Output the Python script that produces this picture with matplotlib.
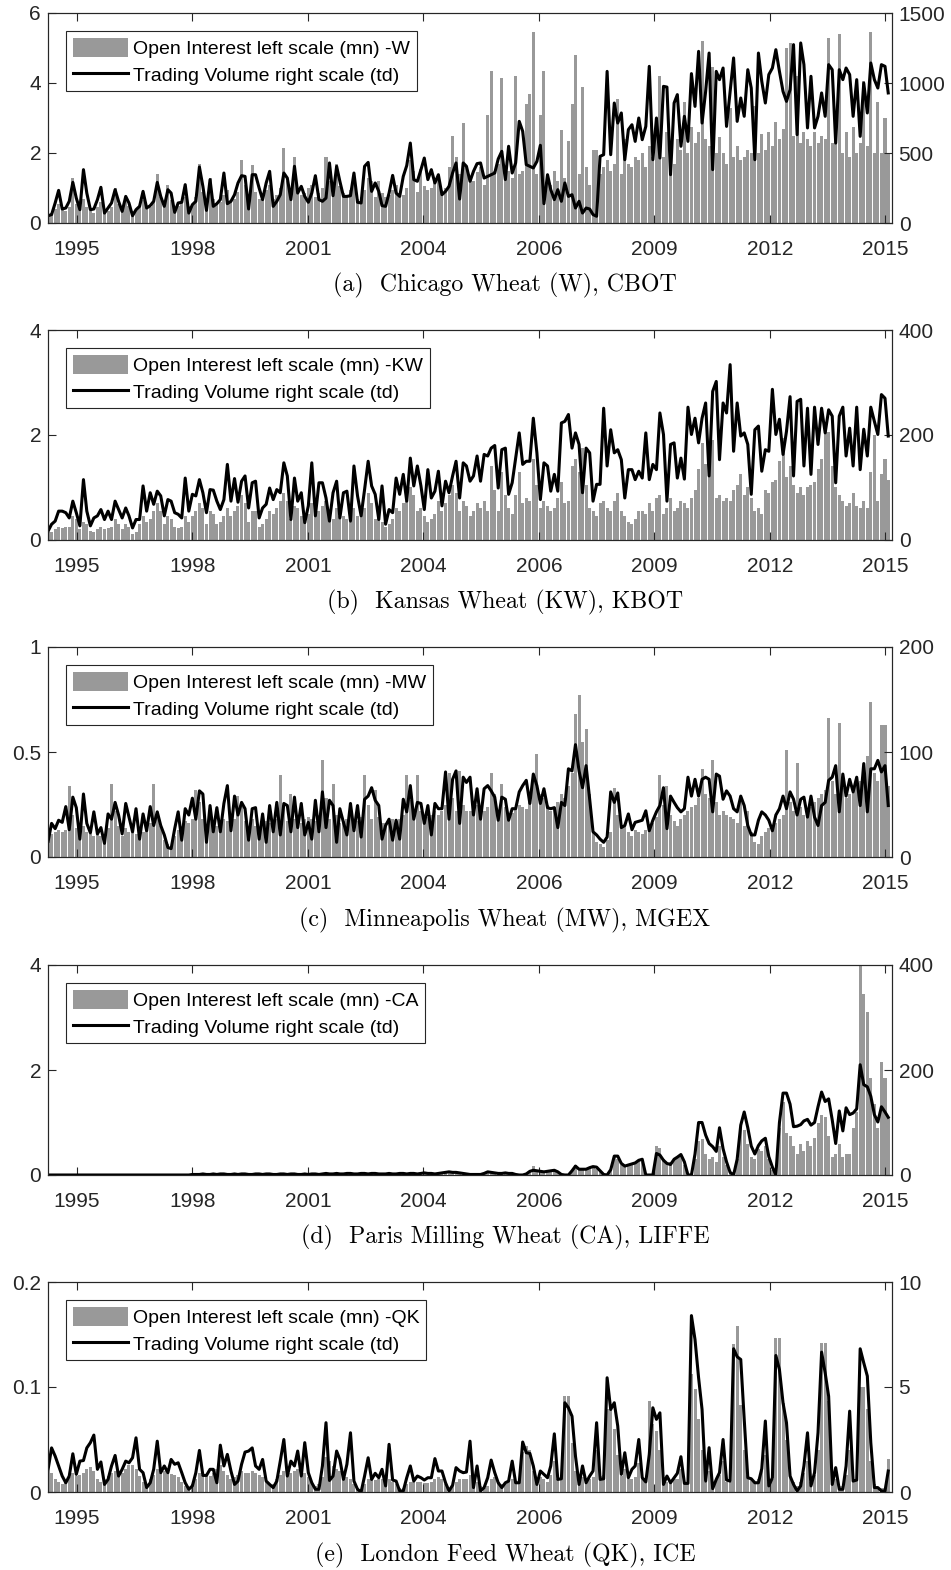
import numpy as np
import matplotlib
matplotlib.use('Agg')
import matplotlib.pyplot as plt

#==============================================================================
# donnees mensuelles, avril 1995 -> mars 2015 (une ligne = 12 mois)
#==============================================================================

mois = np.arange('1995-04', '2015-04', dtype='datetime64[M]').astype('datetime64[D]')

# Chicago W : open interest (mn) et volume (td)
w_oi = [0.25, 0.30, 0.40, 0.55, 0.40, 0.35, 0.45, 1.30, 0.55, 0.40, 0.70, 0.45,
        0.35, 0.30, 0.45, 0.60, 0.35, 0.35, 0.45, 1.00, 0.55, 0.40, 0.75, 0.50,
        0.35, 0.40, 0.50, 0.65, 0.45, 0.45, 0.60, 1.40, 0.75, 0.50, 1.10, 0.65,
        0.40, 0.50, 0.60, 0.75, 0.50, 0.55, 0.75, 1.70, 0.90, 0.55, 1.30, 0.70,
        0.55, 0.60, 0.80, 0.95, 0.60, 0.70, 0.90, 1.80, 1.10, 0.70, 1.65, 0.90,
        0.70, 0.75, 0.95, 1.10, 0.70, 0.80, 1.00, 2.15, 1.20, 0.85, 1.90, 1.00,
        0.80, 0.85, 1.00, 1.10, 0.75, 0.85, 1.00, 1.90, 1.20, 0.85, 1.70, 1.05,
        0.85, 0.80, 0.95, 1.10, 0.70, 0.75, 0.95, 1.30, 1.20, 0.75, 1.20, 0.85,
        0.75, 0.80, 0.95, 1.10, 0.75, 0.80, 1.00, 1.80, 1.50, 0.90, 1.55, 1.05,
        0.95, 1.00, 1.20, 1.30, 0.95, 1.00, 1.60, 2.50, 1.90, 1.40, 2.85, 1.60,
        1.30, 1.20, 1.45, 1.60, 1.10, 3.10, 4.35, 1.50, 1.70, 4.15, 1.40, 1.50,
        1.30, 4.20, 1.40, 1.50, 3.40, 3.70, 5.45, 1.40, 3.10, 4.35, 1.30, 1.10,
        1.50, 1.20, 2.65, 1.30, 2.35, 3.40, 4.80, 1.40, 3.90, 1.60, 1.10, 2.10,
        2.10, 1.40, 1.60, 1.80, 1.50, 1.70, 3.55, 1.40, 2.40, 1.70, 1.60, 1.90,
        1.80, 2.00, 1.60, 2.20, 1.90, 2.60, 4.20, 1.90, 2.60, 2.00, 1.70, 2.40,
        2.10, 3.45, 2.00, 2.75, 2.30, 2.60, 5.20, 2.40, 2.20, 4.45, 2.00, 2.45,
        2.00, 1.70, 3.30, 1.90, 2.20, 1.80, 1.90, 2.10, 2.00, 3.35, 2.00, 2.55,
        2.10, 2.60, 2.20, 2.90, 2.40, 2.70, 5.00, 5.15, 2.50, 4.20, 2.30, 2.60,
        2.40, 2.20, 2.60, 2.30, 2.50, 2.40, 5.30, 2.30, 2.50, 5.40, 2.00, 2.60,
        1.90, 2.75, 2.00, 2.30, 4.05, 2.20, 5.45, 2.00, 3.45, 2.00, 3.00, 2.00]
w_vol = [52, 60, 143, 233, 100, 107, 155, 290, 178, 95, 381, 214,
         95, 100, 167, 255, 71, 107, 143, 238, 155, 83, 190, 143,
         52, 95, 119, 226, 107, 124, 155, 290, 190, 119, 238, 214,
         76, 143, 148, 274, 71, 131, 155, 400, 262, 90, 310, 119,
         138, 167, 357, 138, 155, 202, 286, 338, 333, 100, 345, 345,
         250, 167, 286, 369, 119, 155, 202, 357, 321, 167, 405, 214,
         262, 190, 148, 214, 338, 167, 155, 178, 429, 195, 405, 298,
         190, 190, 195, 357, 148, 143, 405, 433, 226, 286, 226, 124,
         119, 214, 340, 214, 190, 333, 410, 571, 310, 298, 381, 464,
         310, 381, 286, 345, 202, 226, 262, 357, 429, 171, 429, 405,
         298, 369, 424, 429, 321, 333, 345, 357, 457, 512, 310, 548,
         357, 429, 726, 655, 417, 405, 393, 440, 555, 138, 345, 238,
         167, 238, 155, 286, 190, 202, 107, 155, 71, 107, 100, 60,
         48, 476, 488, 1083, 488, 857, 714, 786, 452, 667, 702, 583,
         750, 595, 690, 1119, 452, 750, 464, 976, 971, 345, 857, 917,
         548, 762, 583, 1067, 833, 1226, 714, 940, 1214, 381, 1083, 1024,
         1107, 690, 940, 1179, 726, 893, 762, 1095, 964, 452, 1214, 1012,
         857, 1060, 1107, 1238, 1083, 940, 869, 952, 1274, 631, 1286, 1131,
         679, 1048, 679, 762, 929, 762, 1131, 1095, 571, 1095, 1024, 1107,
         1060, 762, 1024, 619, 1000, 786, 1143, 1024, 964, 1131, 1119, 929]

# Kansas KW
kw_oi = [0.15, 0.15, 0.20, 0.25, 0.22, 0.25, 0.25, 0.45, 0.40, 0.20, 0.35, 0.30,
         0.18, 0.15, 0.20, 0.25, 0.20, 0.22, 0.25, 0.40, 0.30, 0.20, 0.30, 0.25,
         0.12, 0.15, 0.30, 0.45, 0.35, 0.40, 0.55, 0.70, 0.55, 0.30, 0.45, 0.40,
         0.25, 0.22, 0.25, 0.45, 0.35, 0.45, 0.55, 0.70, 0.60, 0.30, 0.55, 0.50,
         0.30, 0.35, 0.45, 0.60, 0.45, 0.55, 0.65, 0.85, 0.70, 0.35, 0.55, 0.55,
         0.25, 0.30, 0.40, 0.55, 0.50, 0.60, 0.75, 0.90, 0.75, 0.40, 0.65, 0.60,
         0.45, 0.40, 0.50, 0.70, 0.50, 0.55, 0.65, 0.75, 0.55, 0.40, 0.60, 0.45,
         0.45, 0.40, 0.35, 0.60, 0.45, 0.50, 0.60, 0.90, 0.70, 0.40, 0.45, 0.35,
         0.25, 0.30, 0.40, 0.60, 0.55, 0.70, 0.75, 1.00, 0.85, 0.55, 0.60, 0.45,
         0.35, 0.40, 0.50, 0.75, 0.55, 0.70, 0.85, 1.05, 0.90, 0.55, 0.75, 0.65,
         0.45, 0.55, 0.70, 0.60, 0.75, 0.55, 1.40, 0.95, 0.55, 1.30, 0.85, 0.60,
         0.50, 0.85, 1.30, 0.70, 0.80, 0.75, 1.55, 1.05, 0.60, 0.75, 0.65, 0.55,
         0.60, 0.80, 1.10, 0.70, 0.75, 1.40, 1.55, 1.30, 1.75, 1.05, 0.60, 0.55,
         0.45, 0.70, 0.75, 0.60, 0.55, 0.75, 0.90, 0.55, 0.45, 0.35, 0.30, 0.40,
         0.55, 0.55, 0.50, 0.70, 0.55, 0.80, 0.85, 0.50, 0.60, 0.80, 0.55, 0.60,
         0.75, 0.70, 0.60, 0.80, 0.95, 1.35, 1.85, 1.45, 1.65, 1.90, 0.80, 0.85,
         0.75, 0.80, 0.75, 0.95, 1.05, 1.25, 0.85, 1.00, 0.80, 0.55, 0.60, 0.50,
         0.95, 0.90, 1.10, 1.15, 1.50, 1.95, 1.20, 1.40, 1.05, 0.90, 1.00, 0.85,
         1.00, 1.05, 1.10, 1.35, 1.55, 2.10, 2.05, 1.40, 1.00, 0.85, 0.75, 0.65,
         0.70, 0.90, 0.65, 0.60, 0.75, 0.60, 1.30, 2.00, 0.75, 1.25, 1.55, 1.15]
kw_vol = [17, 30, 36, 55, 55, 52, 42, 74, 52, 27, 115, 55,
          27, 42, 46, 58, 39, 55, 39, 74, 58, 42, 61, 46,
          23, 39, 39, 103, 55, 90, 68, 93, 84, 46, 77, 74,
          52, 49, 42, 118, 55, 87, 84, 115, 90, 52, 96, 95,
          74, 58, 77, 144, 74, 117, 72, 112, 122, 61, 109, 112,
          42, 61, 68, 99, 77, 96, 90, 147, 122, 39, 118, 74,
          90, 33, 65, 147, 46, 109, 109, 80, 36, 90, 112, 42,
          90, 93, 36, 141, 84, 46, 96, 150, 103, 87, 39, 103,
          30, 58, 52, 118, 87, 125, 74, 156, 103, 141, 103, 58,
          134, 80, 93, 131, 65, 112, 90, 122, 150, 80, 147, 141,
          112, 122, 160, 112, 163, 160, 175, 180, 99, 172, 175, 87,
          109, 156, 204, 144, 150, 150, 232, 166, 77, 147, 141, 93,
          125, 93, 223, 226, 239, 175, 204, 182, 90, 175, 166, 74,
          106, 106, 251, 141, 210, 166, 172, 153, 80, 134, 134, 115,
          131, 118, 204, 115, 144, 134, 242, 201, 74, 182, 185, 118,
          156, 116, 253, 201, 232, 185, 232, 261, 122, 283, 302, 153,
          261, 242, 334, 169, 261, 198, 204, 182, 87, 210, 217, 131,
          172, 169, 287, 201, 230, 163, 207, 273, 122, 264, 268, 141,
          251, 125, 253, 182, 251, 204, 248, 236, 109, 236, 253, 160,
          213, 141, 253, 134, 211, 160, 253, 226, 201, 277, 270, 198]

# Minneapolis MW
mw_oi = [0.10, 0.11, 0.12, 0.13, 0.12, 0.13, 0.34, 0.20, 0.14, 0.10, 0.15, 0.12,
         0.11, 0.10, 0.12, 0.10, 0.11, 0.14, 0.35, 0.22, 0.15, 0.10, 0.14, 0.12,
         0.12, 0.11, 0.13, 0.12, 0.13, 0.16, 0.35, 0.20, 0.15, 0.08, 0.06, 0.05,
         0.10, 0.13, 0.15, 0.17, 0.16, 0.18, 0.32, 0.26, 0.18, 0.10, 0.18, 0.16,
         0.15, 0.16, 0.18, 0.17, 0.16, 0.18, 0.29, 0.24, 0.17, 0.11, 0.18, 0.15,
         0.14, 0.15, 0.17, 0.16, 0.16, 0.18, 0.39, 0.25, 0.17, 0.30, 0.18, 0.15,
         0.16, 0.18, 0.19, 0.18, 0.17, 0.20, 0.46, 0.28, 0.18, 0.35, 0.20, 0.16,
         0.17, 0.18, 0.19, 0.18, 0.17, 0.19, 0.39, 0.25, 0.18, 0.32, 0.19, 0.16,
         0.16, 0.17, 0.18, 0.17, 0.18, 0.20, 0.39, 0.27, 0.20, 0.39, 0.22, 0.18,
         0.19, 0.20, 0.22, 0.20, 0.22, 0.25, 0.40, 0.28, 0.22, 0.41, 0.25, 0.22,
         0.22, 0.24, 0.25, 0.23, 0.22, 0.24, 0.40, 0.30, 0.22, 0.35, 0.24, 0.20,
         0.21, 0.23, 0.25, 0.24, 0.23, 0.26, 0.38, 0.49, 0.30, 0.28, 0.25, 0.22,
         0.24, 0.26, 0.30, 0.28, 0.34, 0.40, 0.68, 0.77, 0.55, 0.61, 0.30, 0.12,
         0.07, 0.06, 0.05, 0.08, 0.12, 0.33, 0.20, 0.14, 0.15, 0.12, 0.10, 0.13,
         0.12, 0.11, 0.13, 0.14, 0.16, 0.19, 0.39, 0.25, 0.34, 0.20, 0.17, 0.15,
         0.18, 0.20, 0.22, 0.24, 0.25, 0.28, 0.42, 0.30, 0.28, 0.46, 0.26, 0.20,
         0.22, 0.20, 0.19, 0.18, 0.16, 0.29, 0.15, 0.22, 0.12, 0.07, 0.06, 0.10,
         0.12, 0.14, 0.15, 0.16, 0.18, 0.20, 0.51, 0.26, 0.22, 0.45, 0.24, 0.20,
         0.22, 0.24, 0.26, 0.28, 0.30, 0.32, 0.66, 0.36, 0.30, 0.64, 0.33, 0.28,
         0.30, 0.32, 0.34, 0.36, 0.38, 0.48, 0.74, 0.40, 0.36, 0.63, 0.63, 0.34]
mw_vol = [15, 32, 27, 35, 33, 48, 26, 57, 47, 17, 60, 32,
          23, 43, 22, 28, 13, 41, 36, 52, 40, 22, 51, 38,
          24, 46, 17, 41, 25, 48, 30, 43, 30, 21, 9, 8,
          27, 43, 16, 46, 40, 56, 36, 63, 60, 14, 49, 24,
          47, 24, 51, 68, 25, 58, 40, 52, 46, 16, 46, 47,
          17, 41, 14, 49, 24, 52, 21, 51, 49, 24, 57, 28,
          51, 21, 33, 17, 54, 24, 62, 28, 54, 49, 14, 46,
          33, 21, 51, 25, 49, 19, 55, 58, 66, 54, 49, 17,
          30, 36, 16, 35, 17, 55, 43, 68, 36, 52, 51, 32,
          49, 21, 51, 46, 46, 81, 36, 74, 82, 32, 76, 71,
          76, 40, 65, 36, 65, 68, 63, 57, 35, 57, 55, 35,
          46, 46, 62, 68, 73, 51, 79, 68, 51, 65, 47, 46,
          47, 28, 52, 49, 84, 82, 107, 82, 66, 87, 55, 24,
          21, 17, 14, 19, 62, 52, 61, 28, 30, 41, 26, 33,
          34, 35, 44, 25, 35, 43, 49, 66, 27, 58, 52, 47,
          43, 46, 76, 58, 74, 58, 74, 76, 74, 43, 79, 77,
          55, 63, 58, 46, 43, 58, 49, 30, 21, 21, 35, 43,
          40, 35, 25, 40, 46, 58, 46, 62, 55, 40, 55, 57,
          38, 58, 38, 30, 49, 52, 73, 76, 87, 43, 79, 58,
          74, 62, 76, 49, 89, 43, 84, 84, 92, 81, 87, 49]

# Paris CA
ca_oi = [0.0] * 36 + [0.005] * 48 + [0.01] * 24 + [
         0.02, 0.02, 0.02, 0.02, 0.03, 0.04, 0.04, 0.03, 0.03, 0.03, 0.02, 0.02,
         0.01, 0.01, 0.02, 0.02, 0.03, 0.04, 0.04, 0.03, 0.03, 0.03, 0.03, 0.03,
         0.03, 0.01, 0.00, 0.00, 0.03, 0.08, 0.17, 0.10, 0.08, 0.08, 0.10, 0.09,
         0.08, 0.04, 0.01, 0.00, 0.00, 0.10, 0.20, 0.14, 0.12, 0.13, 0.16, 0.15,
         0.12, 0.06, 0.01, 0.00, 0.10, 0.35, 0.30, 0.20, 0.16, 0.18, 0.22, 0.25,
         0.28, 0.25, 0.00, 0.00, 0.00, 0.55, 0.52, 0.30, 0.22, 0.25, 0.32, 0.35,
         0.38, 0.20, 0.00, 0.00, 0.30, 0.65, 0.68, 0.40, 0.30, 0.35, 0.25, 0.55,
         0.35, 0.20, 0.03, 0.00, 0.30, 0.90, 0.85, 0.60, 0.35, 0.30, 0.50, 0.45,
         0.55, 0.30, 0.10, 0.00, 0.90, 1.40, 0.80, 0.75, 0.55, 0.40, 0.60, 0.45,
         0.65, 0.55, 0.70, 1.00, 1.15, 1.10, 0.75, 0.35, 0.40, 0.60, 0.35, 0.40,
         0.40, 0.90, 1.20, 4.00, 3.45, 3.10, 1.85, 1.35, 0.90, 2.15, 1.85, 1.10]
ca_vol = [0] * 36 + [
          0, 0, 0, 0, 0, 1, 1, 1, 2, 1, 1, 2,
          1, 2, 2, 1, 1, 2, 1, 2, 2, 1, 1, 2,
          2, 1, 2, 2, 1, 1, 2, 2, 1, 2, 2, 1,
          1, 2, 1, 2, 2, 1, 2, 3, 2, 2, 3, 2,
          2, 3, 3, 2, 2, 3, 3, 2, 3, 3, 2, 2,
          2, 3, 2, 2, 3, 3, 2, 3, 3, 2, 3, 4,
          3, 3, 2, 3, 4, 5, 6, 5, 5, 4, 3, 2,
          1, 1, 1, 1, 3, 6, 5, 4, 3, 3, 4, 3,
          3, 1, 0, 0, 2, 7, 9, 8, 7, 6, 7, 8,
          9, 6, 1, 0, 0, 8, 17, 11, 11, 11, 14, 16,
          15, 8, 1, 0, 10, 36, 36, 22, 17, 19, 21, 23,
          28, 30, 0, 0, 0, 41, 38, 28, 22, 20, 30, 34,
          39, 25, 0, 0, 40, 100, 100, 76, 60, 54, 45, 90,
          50, 25, 5, 0, 30, 95, 120, 90, 55, 40, 56, 65,
          70, 35, 15, 0, 100, 156, 156, 135, 92, 93, 96, 103,
          106, 95, 100, 130, 158, 140, 145, 105, 60, 122, 84, 128,
          115, 118, 126, 210, 172, 168, 150, 115, 101, 130, 120, 110]

# London QK
qk_oi = [0.020, 0.018, 0.012, 0.010, 0.008, 0.010, 0.014, 0.018, 0.015, 0.016, 0.018, 0.022,
         0.024, 0.020, 0.012, 0.010, 0.012, 0.015, 0.018, 0.020, 0.016, 0.018, 0.022, 0.026,
         0.026, 0.022, 0.015, 0.010, 0.008, 0.012, 0.016, 0.022, 0.018, 0.020, 0.018, 0.017,
         0.016, 0.014, 0.010, 0.006, 0.004, 0.008, 0.012, 0.018, 0.016, 0.015, 0.015, 0.018,
         0.022, 0.026, 0.020, 0.016, 0.012, 0.014, 0.016, 0.020, 0.018, 0.018, 0.020, 0.018,
         0.016, 0.014, 0.010, 0.008, 0.008, 0.012, 0.016, 0.020, 0.018, 0.018, 0.020, 0.022,
         0.020, 0.018, 0.014, 0.010, 0.006, 0.008, 0.014, 0.033, 0.030, 0.025, 0.022, 0.020,
         0.016, 0.014, 0.012, 0.008, 0.004, 0.003, 0.008, 0.012, 0.012, 0.011, 0.012, 0.012,
         0.010, 0.012, 0.010, 0.008, 0.004, 0.004, 0.008, 0.010, 0.010, 0.010, 0.010, 0.009,
         0.009, 0.010, 0.012, 0.014, 0.012, 0.008, 0.004, 0.006, 0.010, 0.012, 0.012, 0.012,
         0.016, 0.010, 0.010, 0.006, 0.004, 0.006, 0.012, 0.014, 0.010, 0.008, 0.008, 0.010,
         0.012, 0.010, 0.012, 0.038, 0.044, 0.040, 0.020, 0.012, 0.014, 0.012, 0.010, 0.016,
         0.030, 0.012, 0.015, 0.091, 0.091, 0.047, 0.020, 0.010, 0.014, 0.012, 0.012, 0.014,
         0.040, 0.015, 0.016, 0.079, 0.079, 0.060, 0.035, 0.015, 0.022, 0.012, 0.012, 0.014,
         0.028, 0.012, 0.010, 0.087, 0.065, 0.058, 0.040, 0.010, 0.010, 0.010, 0.012, 0.012,
         0.022, 0.010, 0.010, 0.112, 0.098, 0.070, 0.040, 0.010, 0.020, 0.008, 0.012, 0.016,
         0.030, 0.010, 0.010, 0.141, 0.158, 0.083, 0.040, 0.016, 0.012, 0.010, 0.012, 0.020,
         0.035, 0.010, 0.012, 0.147, 0.147, 0.085, 0.050, 0.014, 0.010, 0.006, 0.010, 0.018,
         0.030, 0.010, 0.016, 0.040, 0.142, 0.142, 0.087, 0.014, 0.012, 0.006, 0.006, 0.016,
         0.040, 0.010, 0.012, 0.100, 0.100, 0.079, 0.030, 0.008, 0.005, 0.004, 0.004, 0.031]
qk_vol = [1.08, 2.10, 1.71, 1.24, 0.76, 0.44, 0.76, 1.82, 0.84, 1.47, 1.50, 2.10,
          2.35, 2.71, 1.08, 1.43, 0.36, 0.60, 1.24, 1.74, 0.76, 1.08, 1.47, 1.39,
          1.63, 2.58, 1.08, 0.92, 0.21, 0.44, 1.08, 2.42, 0.92, 1.24, 0.92, 1.55,
          1.32, 1.39, 0.92, 0.44, 0.13, 0.29, 0.92, 1.98, 0.79, 0.79, 1.08, 1.08,
          0.44, 2.23, 1.24, 1.79, 1.00, 0.36, 0.52, 1.32, 1.90, 1.95, 2.10, 1.24,
          1.08, 1.55, 0.52, 0.36, 0.21, 0.52, 1.47, 2.50, 0.76, 1.47, 1.24, 1.95,
          0.76, 2.35, 0.92, 0.44, 0.13, 0.13, 1.24, 3.30, 0.55, 0.76, 1.95, 1.55,
          0.60, 1.32, 2.82, 0.52, 0.13, 0.00, 0.76, 1.63, 0.60, 0.89, 0.68, 1.08,
          0.29, 2.27, 0.57, 0.52, 0.05, 0.05, 0.68, 1.24, 0.52, 0.76, 0.68, 0.57,
          0.68, 0.68, 1.59, 1.00, 1.00, 0.44, 0.05, 0.32, 1.16, 1.00, 0.92, 0.95,
          2.42, 0.21, 1.24, 0.05, 0.21, 0.68, 1.52, 0.92, 0.44, 0.21, 0.44, 0.52,
          1.47, 0.44, 0.44, 2.38, 1.87, 1.84, 1.24, 0.36, 1.00, 0.84, 0.68, 1.24,
          2.77, 0.60, 0.63, 4.25, 4.01, 3.61, 1.71, 0.36, 1.24, 0.44, 0.76, 1.00,
          3.30, 0.60, 0.63, 5.44, 3.93, 4.25, 3.14, 0.84, 1.87, 0.68, 1.08, 1.24,
          2.50, 0.68, 0.48, 1.79, 4.01, 3.46, 3.77, 0.36, 0.76, 0.44, 0.68, 0.89,
          1.68, 0.41, 0.41, 8.40, 7.26, 5.44, 3.93, 0.52, 2.11, 0.16, 0.60, 0.92,
          2.50, 0.57, 0.52, 6.82, 6.44, 6.31, 3.46, 0.68, 0.63, 0.44, 0.44, 1.11,
          3.38, 0.29, 0.68, 6.50, 5.83, 4.25, 3.30, 0.76, 0.36, 0.05, 0.29, 1.24,
          2.82, 0.29, 0.92, 2.82, 6.66, 5.67, 4.56, 0.36, 1.16, 0.13, 0.13, 1.24,
          3.85, 0.52, 0.57, 6.82, 6.15, 5.52, 2.35, 0.21, 0.21, 0.05, 0.05, 1.00]

# axe des x : graduations (dates) et libelles
tick_dates = np.array(['1995-12-07', '1998-09-02', '2001-05-29', '2004-02-23',
                       '2006-11-19', '2009-08-15', '2012-05-11', '2015-02-05'], dtype='datetime64[D]')
tick_labels = ['1995', '1998', '2001', '2004', '2006', '2009', '2012', '2015']

codes = ['W', 'KW', 'MW', 'CA', 'QK']
titres = ['(a)  Chicago Wheat (W), CBOT',
          '(b)  Kansas Wheat (KW), KBOT',
          '(c)  Minneapolis Wheat (MW), MGEX',
          '(d)  Paris Milling Wheat (CA), LIFFE',
          '(e)  London Feed Wheat (QK), ICE']
list_oi = [w_oi, kw_oi, mw_oi, ca_oi, qk_oi]
list_vol = [w_vol, kw_vol, mw_vol, ca_vol, qk_vol]
left_ticks = [[0, 2, 4, 6], [0, 2, 4], [0, 0.5, 1], [0, 2, 4], [0, 0.1, 0.2]]
right_ticks = [[0, 500, 1000, 1500], [0, 200, 400], [0, 100, 200], [0, 200, 400], [0, 5, 10]]

#==============================================================================
# graphique
#==============================================================================
plt.rcParams['font.family'] = ['Liberation Sans', 'DejaVu Sans']

W, H = 951, 1570
fig = plt.figure(figsize=(W / 100, H / 100), dpi=100)

tops = [13, 330, 647, 965, 1282]
cap_y = [285, 602, 920, 1237, 1555]
ax_h = 210
gris = '#999999'
fonce = '#262626'
x0, x1 = np.datetime64('1995-03-31'), np.datetime64('2015-03-31')

for k in range(5):
    rect = [48 / W, 1 - (tops[k] + ax_h) / H, 843.7 / W, ax_h / H]
    ax = fig.add_axes(rect)
    bars = ax.bar(mois, list_oi[k], width=26, color=gris, linewidth=0, align='center')
    ax.set_xlim(x0, x1)
    ax.set_ylim(left_ticks[k][0], left_ticks[k][-1])
    ax.set_yticks(left_ticks[k])
    ax.set_yticklabels([('%g' % v) for v in left_ticks[k]])
    ax.set_xticks(tick_dates)
    ax.set_xticklabels(tick_labels)
    ax.tick_params(axis='x', direction='in', top=True, bottom=True, length=6,
                   width=0.8, labelsize=15, pad=12, colors=fonce)
    ax.tick_params(axis='y', direction='in', left=True, right=False, length=6,
                   width=0.8, labelsize=15, pad=5, colors=fonce)

    ax2 = ax.twinx()
    ligne, = ax2.plot(mois, list_vol[k], color='black', linewidth=2.2)
    ax2.set_ylim(right_ticks[k][0], right_ticks[k][-1])
    ax2.set_yticks(right_ticks[k])
    ax2.set_yticklabels([('%g' % v) for v in right_ticks[k]])
    ax2.tick_params(axis='y', direction='in', left=False, right=True, length=6,
                    width=0.8, labelsize=15, pad=5, colors=fonce)
    ax2.set_xlim(x0, x1)

    for a in (ax, ax2):
        for s in a.spines.values():
            s.set_color(fonce)
            s.set_linewidth(0.8)

    leg = ax2.legend([bars, ligne],
                     ['Open Interest left scale (mn) -' + codes[k],
                      'Trading Volume right scale (td)'],
                     loc='upper left', bbox_to_anchor=(0.0213, 0.914), borderaxespad=0,
                     fontsize=14, handlelength=2.85, handleheight=1.1,
                     handletextpad=0.25, labelspacing=0.35, borderpad=0.35,
                     fancybox=False, framealpha=1, edgecolor=fonce)
    leg.get_frame().set_linewidth(0.8)

    fig.text(505 / W, 1 - cap_y[k] / H, titres[k], family='cmr10', fontsize=17.2,
             ha='center', va='center')

fig.savefig('out.png', dpi=100)
